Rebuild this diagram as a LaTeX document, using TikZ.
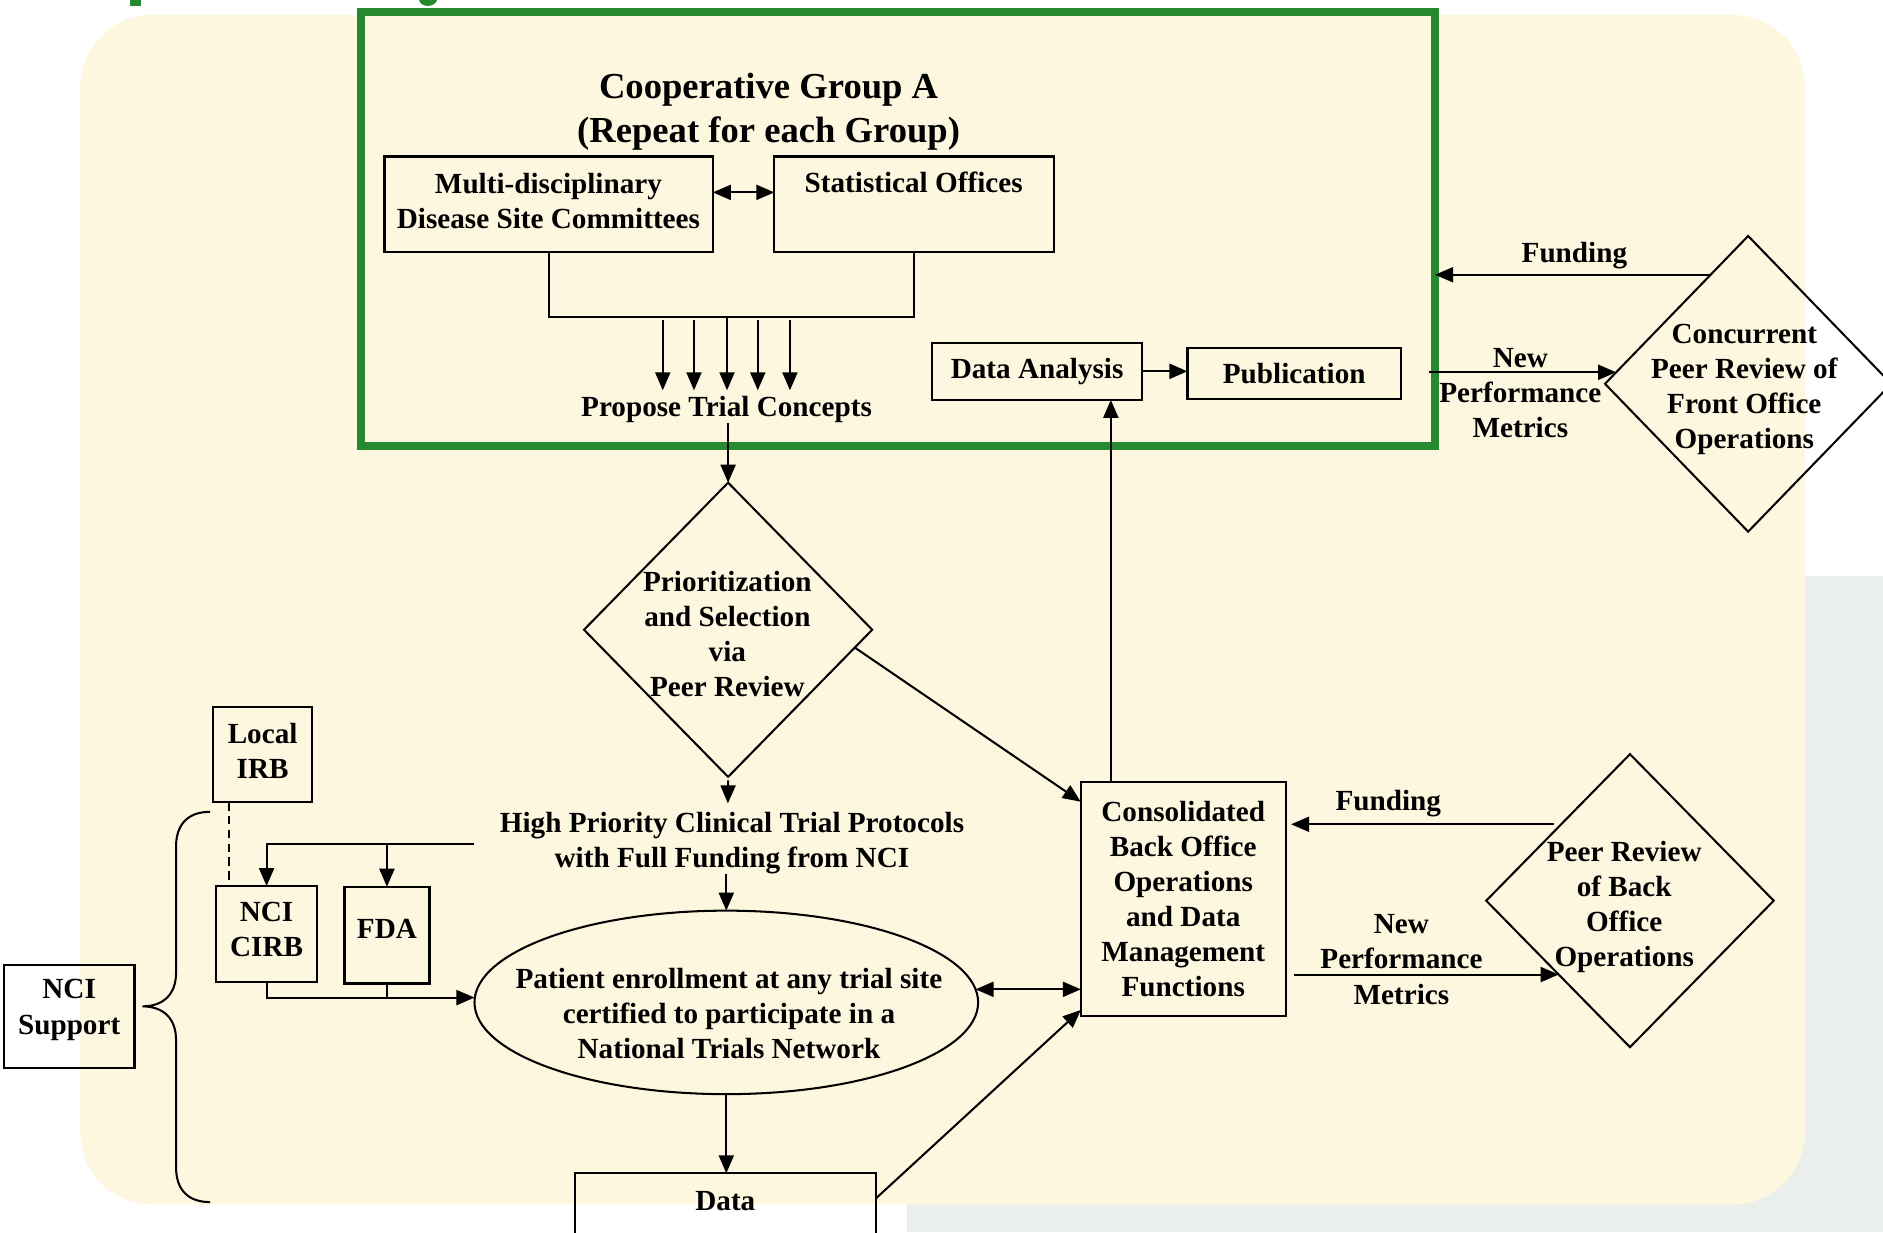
\documentclass[tikz,border=0pt]{standalone}
\usepackage{fontspec}
\setmainfont{Liberation Serif}
\usetikzlibrary{arrows.meta,shapes.geometric,calc}
\definecolor{cream}{RGB}{254,247,224}
\definecolor{grn}{RGB}{38,137,48}
\definecolor{patt}{RGB}{235,239,236}
\newcommand\diagfs{\fontsize{24.3}{29.2}\selectfont\bfseries}
\newcommand\diagttl{\fontsize{30.5}{36}\selectfont\bfseries}
\begin{document}
\begin{tikzpicture}[x=1pt,y=-1pt,
  every node/.style={inner sep=0pt, outer sep=0pt},
  txt/.style={font=\diagfs, align=center},
  ttl/.style={font=\diagttl, align=center},
  box/.style={draw, line width=1.9pt},
  ln/.style={line width=1.7pt},
  dia/.style={draw, line width=1.7pt, diamond},
  arr/.style={ln, -{Triangle[length=15pt,width=12.5pt]}},
  darr/.style={ln, {Triangle[length=15pt,width=12.5pt]}-{Triangle[length=15pt,width=12.5pt]}}
]
\useasboundingbox (0,0) rectangle (1568,1026);
\begin{scope}
\clip (0,0) rectangle (1568,1026);
% background
\fill[patt] (755,480) rectangle (1568,1026);
\fill[cream, rounded corners=60pt] (66.8,12.5) rectangle (1503,1003);
\fill[grn] (108,0) rectangle (117,5);
\fill[grn] (349,0) .. controls (350,6.5) and (362,6.5) .. (364,0) -- cycle;

% cooperative group frame
\node[draw=grn, line width=7pt, minimum width=894.5pt, minimum height=361.6pt] (grp) at (747.75,190.8) {};
\node[ttl] (title) at (640,93) {Cooperative Group A\\(Repeat for each Group)};

\node[box, minimum width=273.4pt, minimum height=79.8pt] (multi) at (456.9,170.2) {};
\node[txt] (multit) at (456.7,167) {Multi-disciplinary\\Disease Site Committees};
\node[box, minimum width=232.9pt, minimum height=79.8pt] (stat) at (761.25,170.2) {};
\node[txt, anchor=base] (statt) at (760.8,160.4) {Statistical Offices};
\draw[darr] ([yshift=10pt]multi.east) -- ([yshift=10pt]stat.west);

\draw[ln] (multi.south) -- ++(0,53.6) -| (stat.south);
\coordinate (bar) at (605.4,263.7);
\node[txt, anchor=base] (prop) at (605,347) {Propose Trial Concepts};
\foreach \xx in {551.9,577.9,631,657.8} \draw[arr] (\xx,266.5) -- (\xx,325);
\draw[arr] (bar) -- (605.4,325);

\node[box, txt, minimum width=174.8pt, minimum height=47.6pt] (da) at (863.6,309.2) {Data Analysis};
\node[box, txt, minimum width=177.8pt, minimum height=42.5pt] (pub) at (1077.7,311.25) {Publication};
\draw[arr] (da.east) -- (da.east -| pub.west);

% prioritization
\node[dia, minimum width=240pt, minimum height=245pt] (prio) at (606.3,524.4) {};
\node[txt] (priot) at (605.7,528) {Prioritization\\and Selection\\via\\Peer Review};
\draw[arr] (prop.south -| prio.north) -- (prio.north);

\node[txt] (hpt) at (609.5,702.4) {High Priority Clinical Trial Protocols\\with Full Funding from NCI};
\coordinate (hptin) at (606.1,669);
\draw[arr] ([yshift=-3pt]prio.south) -- (hptin);

% ellipse
\node[draw, ln, ellipse, minimum width=419.4pt, minimum height=152.8pt] (ell) at (604.8,834.7) {};
\node[txt] (ellt) at (607,844) {Patient enrollment at any trial site\\certified to participate in a\\National Trials Network};
\draw[arr] (ell.north |- hpt.south) -- (ell.north);

% regulatory boxes
\node[box, minimum width=82.3pt, minimum height=79pt] (irb) at (218.7,628.5) {};
\node[txt] (irbt) at (218.7,625) {Local\\IRB};
\node[box, minimum width=84pt, minimum height=79.7pt] (cirb) at (222,777.7) {};
\node[txt] (cirbt) at (222,773.6) {NCI\\CIRB};
\node[box, minimum width=70.8pt, minimum height=80.6pt] (fda) at (322.2,778.7) {};
\node[txt] (fdat) at (322.2,773.6) {FDA};
\coordinate (split) at (394.5,703);
\draw[arr] (split) -| (cirb.north);
\draw[arr] (split -| fda.north) -- (fda.north);
\coordinate (irbd) at ([xshift=-28.1pt]irb.south);
\draw[ln, dash pattern=on 7pt off 4.5pt] (irbd) -- (irbd |- cirb.north);
\coordinate (ellW) at ([yshift=4pt]ell.west);
\draw[arr] (cirb.south) |- (ellW);
\draw[ln] (fda.south) -- (fda.south |- ellW);

% data
\node[box, minimum width=250.6pt, minimum height=90pt] (data) at (604,1022) {};
\node[txt, anchor=base] (datat) at (604,1007.6) {Data};
\draw[arr] (ell.south) -- (ell.south |- data.north);

% consolidated back office
\node[box, txt, minimum width=170.6pt, minimum height=195pt] (cons) at (985.3,748.5) {Consolidated\\Back Office\\Operations\\and Data\\Management\\Functions};
\draw[arr] ([yshift=-21pt]data.north east) -- ([yshift=5pt]cons.south west);
\draw[darr] (ell.3) -- (ell.3 -| cons.west);
\draw[arr] (prio.-8) -- ([yshift=-16.6pt]cons.north west);
\coordinate (up) at ([xshift=25pt]cons.north west);
\draw[arr] (up) -- (up |- da.south);

% front office review
\node[dia, minimum width=238.4pt, minimum height=246.2pt] (conc) at (1455.7,319.6) {};
\node[txt] (conct) at (1452.5,324) {Concurrent\\Peer Review of\\Front Office\\Operations};
\draw[arr] (conc.109.4) -- (conc.109.4 -| grp.east);
\node[txt] (fund1) at (1311,212.5) {Funding};
\coordinate (gE) at ([xshift=-5pt]grp.east);
\draw[arr] (gE |- conc.175.4) -- (conc.175.4);
\node[txt] (npm1) at (1266,327.5) {New\\Performance\\Metrics};

% back office review
\node[dia, minimum width=239.4pt, minimum height=244pt] (peer) at (1357.3,750) {};
\node[txt] (peert) at (1352.5,755) {Peer Review\\of Back\\Office\\Operations};
\coordinate (pf) at ([xshift=-6pt]peer.132.4);
\coordinate (cE) at ([xshift=4.5pt]cons.east);
\draw[arr] (pf) -- (cE |- pf);
\node[txt] (fund2) at (1156,669) {Funding};
\coordinate (cE2) at ([xshift=6.5pt]cons.east);
\draw[arr] (cE2 |- peer.226.5) -- (peer.226.5);
\node[txt] (npm2) at (1167,799) {New\\Performance\\Metrics};

% NCI support and brace
\node[box, minimum width=108.8pt, minimum height=86pt] (sup) at (57.6,846.6) {};
\node[txt] (supt) at (57.6,841) {NCI\\Support};
\coordinate (brT) at (175,676);
\coordinate (brB) at (175,1001);
\coordinate (brTip) at (118.5,838);
\draw[ln] (brT) .. controls (155,676) and (146.6,688) .. (146.6,705) -- (146.6,810)
  .. controls (146.6,828) and (136,838) .. (brTip)
  .. controls (136,838) and (146.6,848) .. (146.6,866) -- (146.6,972)
  .. controls (146.6,989) and (155,1001) .. (brB);
\end{scope}
\end{tikzpicture}
\end{document}
